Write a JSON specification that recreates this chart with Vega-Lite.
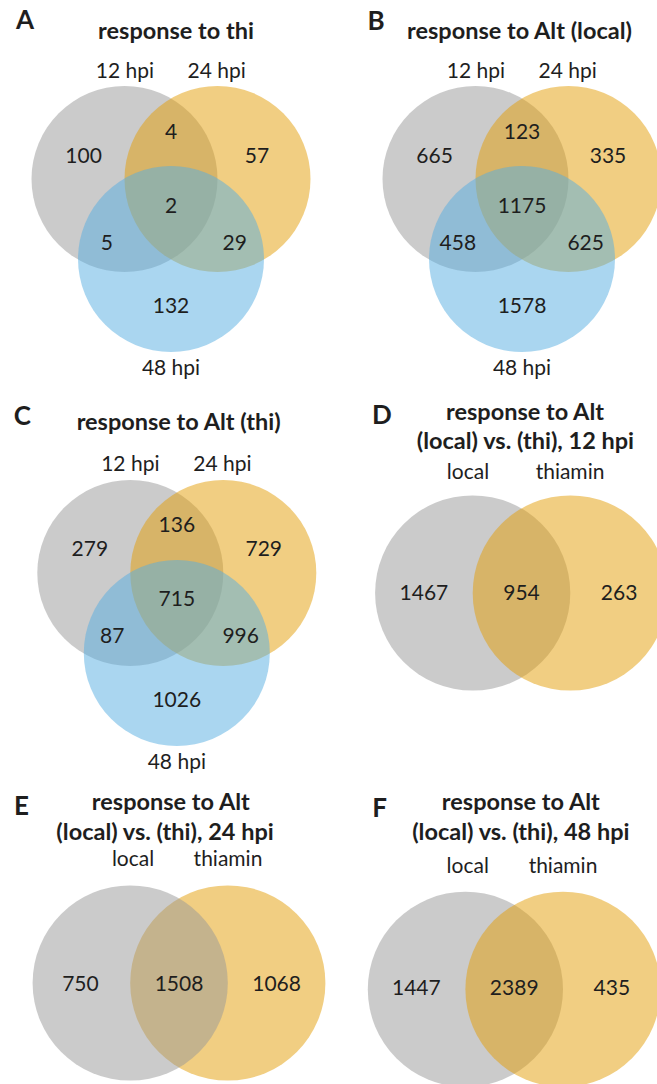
{
  "$schema": "https://vega.github.io/schema/vega-lite/v6.json",
  "padding": 0,
  "background": "white",
  "config": {
    "view": {"stroke": null},
    "concat": {"spacing": 0},
    "axis": {"disable": true},
    "text": {"font": "Lato", "fontSize": 21, "color": "#1e1e1e", "baseline": "middle", "align": "center"},
    "point": {"filled": true, "shape": "circle", "opacity": 0.5, "strokeWidth": 0}
  },
  "datasets": {
    "sets3": [{"set": "12 hpi"}, {"set": "24 hpi"}, {"set": "48 hpi"}],
    "sets2": [{"set": "local"}, {"set": "thiamin"}],
    "titles": [
      {"panel": "A", "line1": "response to thi"},
      {"panel": "B", "line1": "response to Alt (local)"},
      {"panel": "C", "line1": "response to Alt (thi)"},
      {"panel": "D", "line1": "response to Alt", "line2": "(local) vs. (thi), 12 hpi"},
      {"panel": "E", "line1": "response to Alt", "line2": "(local) vs. (thi), 24 hpi"},
      {"panel": "F", "line1": "response to Alt", "line2": "(local) vs. (thi), 48 hpi"}
    ],
    "counts": [
      {"panel": "A", "region": "12 hpi only", "count": 100},
      {"panel": "A", "region": "12 & 24 hpi", "count": 4},
      {"panel": "A", "region": "24 hpi only", "count": 57},
      {"panel": "A", "region": "12 & 24 & 48 hpi", "count": 2},
      {"panel": "A", "region": "12 & 48 hpi", "count": 5},
      {"panel": "A", "region": "24 & 48 hpi", "count": 29},
      {"panel": "A", "region": "48 hpi only", "count": 132},
      {"panel": "B", "region": "12 hpi only", "count": 665},
      {"panel": "B", "region": "12 & 24 hpi", "count": 123},
      {"panel": "B", "region": "24 hpi only", "count": 335},
      {"panel": "B", "region": "12 & 24 & 48 hpi", "count": 1175},
      {"panel": "B", "region": "12 & 48 hpi", "count": 458},
      {"panel": "B", "region": "24 & 48 hpi", "count": 625},
      {"panel": "B", "region": "48 hpi only", "count": 1578},
      {"panel": "C", "region": "12 hpi only", "count": 279},
      {"panel": "C", "region": "12 & 24 hpi", "count": 136},
      {"panel": "C", "region": "24 hpi only", "count": 729},
      {"panel": "C", "region": "12 & 24 & 48 hpi", "count": 715},
      {"panel": "C", "region": "12 & 48 hpi", "count": 87},
      {"panel": "C", "region": "24 & 48 hpi", "count": 996},
      {"panel": "C", "region": "48 hpi only", "count": 1026},
      {"panel": "D", "region": "local only", "count": 1467},
      {"panel": "D", "region": "both", "count": 954},
      {"panel": "D", "region": "thiamin only", "count": 263},
      {"panel": "E", "region": "local only", "count": 750},
      {"panel": "E", "region": "both", "count": 1508},
      {"panel": "E", "region": "thiamin only", "count": 1068},
      {"panel": "F", "region": "local only", "count": 1447},
      {"panel": "F", "region": "both", "count": 2389},
      {"panel": "F", "region": "thiamin only", "count": 435}
    ]
  },
  "vconcat": [
    {
      "hconcat": [
        {
          "width": 327, "height": 385,
          "layer": [
            {"data": {"name": "sets3"}, "transform": [{"filter": "datum.set === '12 hpi'"}], "mark": {"type": "point", "clip": true},
             "encoding": {"x": {"datum": -0.5, "type": "quantitative", "scale": {"domain": [-1.8387, 1.6774], "nice": false, "zero": false}},
                          "y": {"datum": 0, "type": "quantitative", "scale": {"domain": [-2.2151, 1.9247], "nice": false, "zero": false}},
                          "color": {"field": "set", "type": "nominal", "scale": {"domain": ["12 hpi", "24 hpi", "48 hpi", "local", "thiamin"], "range": ["#989898", "#E39D05", "#55ADE1", "#989898", "#E39D05"]}, "legend": null},
                          "size": {"value": 34596}}},
            {"data": {"name": "sets3"}, "transform": [{"filter": "datum.set === '24 hpi'"}], "mark": {"type": "point", "clip": true},
             "encoding": {"x": {"datum": 0.5}, "y": {"datum": 0}, "color": {"field": "set", "type": "nominal", "legend": null}, "size": {"value": 34596}}},
            {"data": {"name": "sets3"}, "transform": [{"filter": "datum.set === '48 hpi'"}], "mark": {"type": "point", "clip": true},
             "encoding": {"x": {"datum": 0}, "y": {"datum": -0.86}, "color": {"field": "set", "type": "nominal", "legend": null}, "size": {"value": 34596}}},
            {"data": {"name": "counts"}, "transform": [{"filter": "datum.panel === 'A' && datum.region === '12 hpi only'"}], "mark": "text", "encoding": {"x": {"datum": -0.94}, "y": {"datum": 0.24}, "text": {"field": "count"}}},
            {"data": {"name": "counts"}, "transform": [{"filter": "datum.panel === 'A' && datum.region === '12 & 24 hpi'"}], "mark": "text", "encoding": {"x": {"datum": 0}, "y": {"datum": 0.495}, "text": {"field": "count"}}},
            {"data": {"name": "counts"}, "transform": [{"filter": "datum.panel === 'A' && datum.region === '24 hpi only'"}], "mark": "text", "encoding": {"x": {"datum": 0.925}, "y": {"datum": 0.24}, "text": {"field": "count"}}},
            {"data": {"name": "counts"}, "transform": [{"filter": "datum.panel === 'A' && datum.region === '12 & 24 & 48 hpi'"}], "mark": "text", "encoding": {"x": {"datum": 0}, "y": {"datum": -0.305}, "text": {"field": "count"}}},
            {"data": {"name": "counts"}, "transform": [{"filter": "datum.panel === 'A' && datum.region === '12 & 48 hpi'"}], "mark": "text", "encoding": {"x": {"datum": -0.69}, "y": {"datum": -0.7}, "text": {"field": "count"}}},
            {"data": {"name": "counts"}, "transform": [{"filter": "datum.panel === 'A' && datum.region === '24 & 48 hpi'"}], "mark": "text", "encoding": {"x": {"datum": 0.685}, "y": {"datum": -0.7}, "text": {"field": "count"}}},
            {"data": {"name": "counts"}, "transform": [{"filter": "datum.panel === 'A' && datum.region === '48 hpi only'"}], "mark": "text", "encoding": {"x": {"datum": 0}, "y": {"datum": -1.375}, "text": {"field": "count"}}},
            {"data": {"name": "sets3"}, "transform": [{"filter": "datum.set === '12 hpi'"}], "mark": "text", "encoding": {"x": {"datum": -0.495}, "y": {"datum": 1.15}, "text": {"field": "set"}}},
            {"data": {"name": "sets3"}, "transform": [{"filter": "datum.set === '24 hpi'"}], "mark": "text", "encoding": {"x": {"datum": 0.49}, "y": {"datum": 1.15}, "text": {"field": "set"}}},
            {"data": {"name": "sets3"}, "transform": [{"filter": "datum.set === '48 hpi'"}], "mark": "text", "encoding": {"x": {"datum": 0}, "y": {"datum": -2.04}, "text": {"field": "set"}}},
            {"data": {"name": "titles"}, "transform": [{"filter": "datum.panel === 'A'"}], "mark": {"type": "text", "fontWeight": "bold", "fontSize": 23.5}, "encoding": {"x": {"datum": 0.054}, "y": {"datum": 1.58}, "text": {"field": "line1"}}},
            {"data": {"name": "titles"}, "transform": [{"filter": "datum.panel === 'A'"}], "mark": {"type": "text", "fontWeight": "bold", "fontSize": 26}, "encoding": {"x": {"datum": -1.57}, "y": {"datum": 1.7}, "text": {"field": "panel"}}}
          ]
        },
        {
          "width": 330, "height": 385,
          "layer": [
            {"data": {"name": "sets3"}, "transform": [{"filter": "datum.set === '12 hpi'"}], "mark": {"type": "point", "clip": true},
             "encoding": {"x": {"datum": -0.5, "type": "quantitative", "scale": {"domain": [-2.0968, 1.4516], "nice": false, "zero": false}},
                          "y": {"datum": 0, "type": "quantitative", "scale": {"domain": [-2.2151, 1.9247], "nice": false, "zero": false}},
                          "color": {"field": "set", "type": "nominal", "legend": null},
                          "size": {"value": 34596}}},
            {"data": {"name": "sets3"}, "transform": [{"filter": "datum.set === '24 hpi'"}], "mark": {"type": "point", "clip": true},
             "encoding": {"x": {"datum": 0.5}, "y": {"datum": 0}, "color": {"field": "set", "type": "nominal", "legend": null}, "size": {"value": 34596}}},
            {"data": {"name": "sets3"}, "transform": [{"filter": "datum.set === '48 hpi'"}], "mark": {"type": "point", "clip": true},
             "encoding": {"x": {"datum": 0}, "y": {"datum": -0.86}, "color": {"field": "set", "type": "nominal", "legend": null}, "size": {"value": 34596}}},
            {"data": {"name": "counts"}, "transform": [{"filter": "datum.panel === 'B' && datum.region === '12 hpi only'"}], "mark": "text", "encoding": {"x": {"datum": -0.94}, "y": {"datum": 0.24}, "text": {"field": "count"}}},
            {"data": {"name": "counts"}, "transform": [{"filter": "datum.panel === 'B' && datum.region === '12 & 24 hpi'"}], "mark": "text", "encoding": {"x": {"datum": 0}, "y": {"datum": 0.495}, "text": {"field": "count"}}},
            {"data": {"name": "counts"}, "transform": [{"filter": "datum.panel === 'B' && datum.region === '24 hpi only'"}], "mark": "text", "encoding": {"x": {"datum": 0.925}, "y": {"datum": 0.24}, "text": {"field": "count"}}},
            {"data": {"name": "counts"}, "transform": [{"filter": "datum.panel === 'B' && datum.region === '12 & 24 & 48 hpi'"}], "mark": "text", "encoding": {"x": {"datum": 0}, "y": {"datum": -0.305}, "text": {"field": "count"}}},
            {"data": {"name": "counts"}, "transform": [{"filter": "datum.panel === 'B' && datum.region === '12 & 48 hpi'"}], "mark": "text", "encoding": {"x": {"datum": -0.69}, "y": {"datum": -0.7}, "text": {"field": "count"}}},
            {"data": {"name": "counts"}, "transform": [{"filter": "datum.panel === 'B' && datum.region === '24 & 48 hpi'"}], "mark": "text", "encoding": {"x": {"datum": 0.685}, "y": {"datum": -0.7}, "text": {"field": "count"}}},
            {"data": {"name": "counts"}, "transform": [{"filter": "datum.panel === 'B' && datum.region === '48 hpi only'"}], "mark": "text", "encoding": {"x": {"datum": 0}, "y": {"datum": -1.375}, "text": {"field": "count"}}},
            {"data": {"name": "sets3"}, "transform": [{"filter": "datum.set === '12 hpi'"}], "mark": "text", "encoding": {"x": {"datum": -0.495}, "y": {"datum": 1.15}, "text": {"field": "set"}}},
            {"data": {"name": "sets3"}, "transform": [{"filter": "datum.set === '24 hpi'"}], "mark": "text", "encoding": {"x": {"datum": 0.49}, "y": {"datum": 1.15}, "text": {"field": "set"}}},
            {"data": {"name": "sets3"}, "transform": [{"filter": "datum.set === '48 hpi'"}], "mark": "text", "encoding": {"x": {"datum": 0}, "y": {"datum": -2.04}, "text": {"field": "set"}}},
            {"data": {"name": "titles"}, "transform": [{"filter": "datum.panel === 'B'"}], "mark": {"type": "text", "fontWeight": "bold", "fontSize": 23.5}, "encoding": {"x": {"datum": -0.027}, "y": {"datum": 1.58}, "text": {"field": "line1"}}},
            {"data": {"name": "titles"}, "transform": [{"filter": "datum.panel === 'B'"}], "mark": {"type": "text", "fontWeight": "bold", "fontSize": 26}, "encoding": {"x": {"datum": -1.568}, "y": {"datum": 1.69}, "text": {"field": "panel"}}}
          ]
        }
      ]
    },
    {
      "hconcat": [
        {
          "width": 327, "height": 390,
          "layer": [
            {"data": {"name": "sets3"}, "transform": [{"filter": "datum.set === '12 hpi'"}], "mark": {"type": "point", "clip": true},
             "encoding": {"x": {"datum": -0.5, "type": "quantitative", "scale": {"domain": [-1.9011, 1.6151], "nice": false, "zero": false}},
                          "y": {"datum": 0, "type": "quantitative", "scale": {"domain": [-2.172, 2.0215], "nice": false, "zero": false}},
                          "color": {"field": "set", "type": "nominal", "legend": null},
                          "size": {"value": 34596}}},
            {"data": {"name": "sets3"}, "transform": [{"filter": "datum.set === '24 hpi'"}], "mark": {"type": "point", "clip": true},
             "encoding": {"x": {"datum": 0.5}, "y": {"datum": 0}, "color": {"field": "set", "type": "nominal", "legend": null}, "size": {"value": 34596}}},
            {"data": {"name": "sets3"}, "transform": [{"filter": "datum.set === '48 hpi'"}], "mark": {"type": "point", "clip": true},
             "encoding": {"x": {"datum": 0}, "y": {"datum": -0.86}, "color": {"field": "set", "type": "nominal", "legend": null}, "size": {"value": 34596}}},
            {"data": {"name": "counts"}, "transform": [{"filter": "datum.panel === 'C' && datum.region === '12 hpi only'"}], "mark": "text", "encoding": {"x": {"datum": -0.935}, "y": {"datum": 0.247}, "text": {"field": "count"}}},
            {"data": {"name": "counts"}, "transform": [{"filter": "datum.panel === 'C' && datum.region === '12 & 24 hpi'"}], "mark": "text", "encoding": {"x": {"datum": 0}, "y": {"datum": 0.505}, "text": {"field": "count"}}},
            {"data": {"name": "counts"}, "transform": [{"filter": "datum.panel === 'C' && datum.region === '24 hpi only'"}], "mark": "text", "encoding": {"x": {"datum": 0.935}, "y": {"datum": 0.247}, "text": {"field": "count"}}},
            {"data": {"name": "counts"}, "transform": [{"filter": "datum.panel === 'C' && datum.region === '12 & 24 & 48 hpi'"}], "mark": "text", "encoding": {"x": {"datum": 0}, "y": {"datum": -0.29}, "text": {"field": "count"}}},
            {"data": {"name": "counts"}, "transform": [{"filter": "datum.panel === 'C' && datum.region === '12 & 48 hpi'"}], "mark": "text", "encoding": {"x": {"datum": -0.695}, "y": {"datum": -0.685}, "text": {"field": "count"}}},
            {"data": {"name": "counts"}, "transform": [{"filter": "datum.panel === 'C' && datum.region === '24 & 48 hpi'"}], "mark": "text", "encoding": {"x": {"datum": 0.687}, "y": {"datum": -0.685}, "text": {"field": "count"}}},
            {"data": {"name": "counts"}, "transform": [{"filter": "datum.panel === 'C' && datum.region === '48 hpi only'"}], "mark": "text", "encoding": {"x": {"datum": 0}, "y": {"datum": -1.376}, "text": {"field": "count"}}},
            {"data": {"name": "sets3"}, "transform": [{"filter": "datum.set === '12 hpi'"}], "mark": "text", "encoding": {"x": {"datum": -0.5}, "y": {"datum": 1.16}, "text": {"field": "set"}}},
            {"data": {"name": "sets3"}, "transform": [{"filter": "datum.set === '24 hpi'"}], "mark": "text", "encoding": {"x": {"datum": 0.49}, "y": {"datum": 1.16}, "text": {"field": "set"}}},
            {"data": {"name": "sets3"}, "transform": [{"filter": "datum.set === '48 hpi'"}], "mark": "text", "encoding": {"x": {"datum": 0}, "y": {"datum": -2.04}, "text": {"field": "set"}}},
            {"data": {"name": "titles"}, "transform": [{"filter": "datum.panel === 'C'"}], "mark": {"type": "text", "fontWeight": "bold", "fontSize": 23.5}, "encoding": {"x": {"datum": 0.02}, "y": {"datum": 1.61}, "text": {"field": "line1"}}},
            {"data": {"name": "titles"}, "transform": [{"filter": "datum.panel === 'C'"}], "mark": {"type": "text", "fontWeight": "bold", "fontSize": 26}, "encoding": {"x": {"datum": -1.66}, "y": {"datum": 1.68}, "text": {"field": "panel"}}}
          ]
        },
        {
          "width": 330, "height": 390,
          "layer": [
            {"data": {"name": "sets2"}, "transform": [{"filter": "datum.set === 'local'"}], "mark": {"type": "point", "clip": true},
             "encoding": {"x": {"datum": -0.5, "type": "quantitative", "scale": {"domain": [-1.9928, 1.3883], "nice": false, "zero": false}},
                          "y": {"datum": 0, "type": "quantitative", "scale": {"domain": [-1.8648, 2.1311], "nice": false, "zero": false}},
                          "color": {"field": "set", "type": "nominal", "legend": null},
                          "size": {"value": 38103}}},
            {"data": {"name": "sets2"}, "transform": [{"filter": "datum.set === 'thiamin'"}], "mark": {"type": "point", "clip": true},
             "encoding": {"x": {"datum": 0.5}, "y": {"datum": 0}, "color": {"field": "set", "type": "nominal", "legend": null}, "size": {"value": 38103}}},
            {"data": {"name": "counts"}, "transform": [{"filter": "datum.panel === 'D' && datum.region === 'local only'"}], "mark": "text", "encoding": {"x": {"datum": -1}, "y": {"datum": -0.01}, "text": {"field": "count"}}},
            {"data": {"name": "counts"}, "transform": [{"filter": "datum.panel === 'D' && datum.region === 'both'"}], "mark": "text", "encoding": {"x": {"datum": 0}, "y": {"datum": -0.01}, "text": {"field": "count"}}},
            {"data": {"name": "counts"}, "transform": [{"filter": "datum.panel === 'D' && datum.region === 'thiamin only'"}], "mark": "text", "encoding": {"x": {"datum": 1}, "y": {"datum": -0.01}, "text": {"field": "count"}}},
            {"data": {"name": "sets2"}, "transform": [{"filter": "datum.set === 'local'"}], "mark": "text", "encoding": {"x": {"datum": -0.548}, "y": {"datum": 1.23}, "text": {"field": "set"}}},
            {"data": {"name": "sets2"}, "transform": [{"filter": "datum.set === 'thiamin'"}], "mark": "text", "encoding": {"x": {"datum": 0.497}, "y": {"datum": 1.23}, "text": {"field": "set"}}},
            {"data": {"name": "titles"}, "transform": [{"filter": "datum.panel === 'D'"}], "mark": {"type": "text", "fontWeight": "bold", "fontSize": 23.5}, "encoding": {"x": {"datum": 0.036}, "y": {"datum": 1.84}, "text": {"field": "line1"}}},
            {"data": {"name": "titles"}, "transform": [{"filter": "datum.panel === 'D'"}], "mark": {"type": "text", "fontWeight": "bold", "fontSize": 23.5}, "encoding": {"x": {"datum": 0.04}, "y": {"datum": 1.55}, "text": {"field": "line2"}}},
            {"data": {"name": "titles"}, "transform": [{"filter": "datum.panel === 'D'"}], "mark": {"type": "text", "fontWeight": "bold", "fontSize": 26}, "encoding": {"x": {"datum": -1.43}, "y": {"datum": 1.81}, "text": {"field": "panel"}}}
          ]
        }
      ]
    },
    {
      "hconcat": [
        {
          "width": 327, "height": 309,
          "layer": [
            {"data": {"name": "sets2"}, "transform": [{"filter": "datum.set === 'thiamin'"}], "mark": {"type": "point", "clip": true},
             "encoding": {"x": {"datum": 0.5, "type": "quantitative", "scale": {"domain": [-1.834, 1.5164], "nice": false, "zero": false}},
                          "y": {"datum": 0, "type": "quantitative", "scale": {"domain": [-1.0348, 2.1311], "nice": false, "zero": false}},
                          "color": {"field": "set", "type": "nominal", "legend": null},
                          "size": {"value": 38103}}},
            {"data": {"name": "sets2"}, "transform": [{"filter": "datum.set === 'local'"}], "mark": {"type": "point", "clip": true},
             "encoding": {"x": {"datum": -0.5}, "y": {"datum": 0}, "color": {"field": "set", "type": "nominal", "legend": null}, "size": {"value": 38103}}},
            {"data": {"name": "counts"}, "transform": [{"filter": "datum.panel === 'E' && datum.region === 'local only'"}], "mark": "text", "encoding": {"x": {"datum": -1.01}, "y": {"datum": -0.02}, "text": {"field": "count"}}},
            {"data": {"name": "counts"}, "transform": [{"filter": "datum.panel === 'E' && datum.region === 'both'"}], "mark": "text", "encoding": {"x": {"datum": 0}, "y": {"datum": -0.02}, "text": {"field": "count"}}},
            {"data": {"name": "counts"}, "transform": [{"filter": "datum.panel === 'E' && datum.region === 'thiamin only'"}], "mark": "text", "encoding": {"x": {"datum": 1}, "y": {"datum": -0.02}, "text": {"field": "count"}}},
            {"data": {"name": "sets2"}, "transform": [{"filter": "datum.set === 'local'"}], "mark": "text", "encoding": {"x": {"datum": -0.471}, "y": {"datum": 1.26}, "text": {"field": "set"}}},
            {"data": {"name": "sets2"}, "transform": [{"filter": "datum.set === 'thiamin'"}], "mark": "text", "encoding": {"x": {"datum": 0.502}, "y": {"datum": 1.26}, "text": {"field": "set"}}},
            {"data": {"name": "titles"}, "transform": [{"filter": "datum.panel === 'E'"}], "mark": {"type": "text", "fontWeight": "bold", "fontSize": 23.5}, "encoding": {"x": {"datum": -0.084}, "y": {"datum": 1.847}, "text": {"field": "line1"}}},
            {"data": {"name": "titles"}, "transform": [{"filter": "datum.panel === 'E'"}], "mark": {"type": "text", "fontWeight": "bold", "fontSize": 23.5}, "encoding": {"x": {"datum": -0.143}, "y": {"datum": 1.537}, "text": {"field": "line2"}}},
            {"data": {"name": "titles"}, "transform": [{"filter": "datum.panel === 'E'"}], "mark": {"type": "text", "fontWeight": "bold", "fontSize": 26}, "encoding": {"x": {"datum": -1.614}, "y": {"datum": 1.808}, "text": {"field": "panel"}}}
          ]
        },
        {
          "width": 330, "height": 309,
          "layer": [
            {"data": {"name": "sets2"}, "transform": [{"filter": "datum.set === 'local'"}], "mark": {"type": "point", "clip": true},
             "encoding": {"x": {"datum": -0.5, "type": "quantitative", "scale": {"domain": [-1.918, 1.4631], "nice": false, "zero": false}},
                          "y": {"datum": 0, "type": "quantitative", "scale": {"domain": [-0.9703, 2.1957], "nice": false, "zero": false}},
                          "color": {"field": "set", "type": "nominal", "legend": null},
                          "size": {"value": 38103}}},
            {"data": {"name": "sets2"}, "transform": [{"filter": "datum.set === 'thiamin'"}], "mark": {"type": "point", "clip": true},
             "encoding": {"x": {"datum": 0.5}, "y": {"datum": 0}, "color": {"field": "set", "type": "nominal", "legend": null}, "size": {"value": 38103}}},
            {"data": {"name": "counts"}, "transform": [{"filter": "datum.panel === 'F' && datum.region === 'local only'"}], "mark": "text", "encoding": {"x": {"datum": -1.003}, "y": {"datum": 0}, "text": {"field": "count"}}},
            {"data": {"name": "counts"}, "transform": [{"filter": "datum.panel === 'F' && datum.region === 'both'"}], "mark": "text", "encoding": {"x": {"datum": 0}, "y": {"datum": 0}, "text": {"field": "count"}}},
            {"data": {"name": "counts"}, "transform": [{"filter": "datum.panel === 'F' && datum.region === 'thiamin only'"}], "mark": "text", "encoding": {"x": {"datum": 1}, "y": {"datum": 0}, "text": {"field": "count"}}},
            {"data": {"name": "sets2"}, "transform": [{"filter": "datum.set === 'local'"}], "mark": "text", "encoding": {"x": {"datum": -0.476}, "y": {"datum": 1.25}, "text": {"field": "set"}}},
            {"data": {"name": "sets2"}, "transform": [{"filter": "datum.set === 'thiamin'"}], "mark": "text", "encoding": {"x": {"datum": 0.5}, "y": {"datum": 1.25}, "text": {"field": "set"}}},
            {"data": {"name": "titles"}, "transform": [{"filter": "datum.panel === 'F'"}], "mark": {"type": "text", "fontWeight": "bold", "fontSize": 23.5}, "encoding": {"x": {"datum": 0.068}, "y": {"datum": 1.906}, "text": {"field": "line1"}}},
            {"data": {"name": "titles"}, "transform": [{"filter": "datum.panel === 'F'"}], "mark": {"type": "text", "fontWeight": "bold", "fontSize": 23.5}, "encoding": {"x": {"datum": 0.068}, "y": {"datum": 1.598}, "text": {"field": "line2"}}},
            {"data": {"name": "titles"}, "transform": [{"filter": "datum.panel === 'F'"}], "mark": {"type": "text", "fontWeight": "bold", "fontSize": 26}, "encoding": {"x": {"datum": -1.38}, "y": {"datum": 1.852}, "text": {"field": "panel"}}}
          ]
        }
      ]
    }
  ]
}
